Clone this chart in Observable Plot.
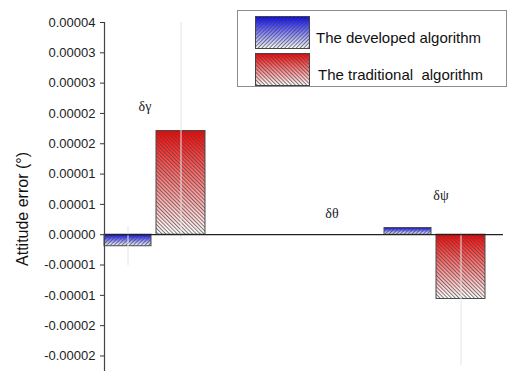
<!DOCTYPE html>
<html><head><meta charset="utf-8">
<script src="https://cdn.jsdelivr.net/npm/d3@7"></script>
<script src="https://cdn.jsdelivr.net/npm/@observablehq/plot@0.6"></script>
<style>
body{margin:0;background:#fff;}
#wrap{position:relative;width:510px;height:371px;font-family:"Liberation Sans",Arial,sans-serif;}
#legend{position:absolute;left:237px;top:10px;width:270px;height:77px;border:1px solid #8c8c8c;background:#fff;box-sizing:border-box;}
.sw{position:absolute;left:17px;width:55px;height:33px;}
.lt{position:absolute;font-size:15px;color:#111;white-space:pre;line-height:18px;}
</style></head><body>
<svg width="0" height="0" style="position:absolute">
  <defs>
    <linearGradient id="gradRed" x1="0" y1="0" x2="0" y2="1">
      <stop offset="0" stop-color="#ff0000"/>
      <stop offset="1" stop-color="#ffffff"/>
    </linearGradient>
    <linearGradient id="gradBlue" x1="0" y1="0" x2="0" y2="1">
      <stop offset="0" stop-color="#0000ff"/>
      <stop offset="1" stop-color="#ffffff"/>
    </linearGradient>
    <pattern id="hatchRed" width="2.7" height="2.7" patternUnits="userSpaceOnUse" patternTransform="rotate(-45)">
      <line x1="0.5" y1="0" x2="0.5" y2="2.7" stroke="#444" stroke-width="0.7"/>
    </pattern>
    <pattern id="hatchBlue" width="2.7" height="2.7" patternUnits="userSpaceOnUse" patternTransform="rotate(45)">
      <line x1="0.5" y1="0" x2="0.5" y2="2.7" stroke="#444" stroke-width="0.7"/>
    </pattern>
  </defs>
</svg>
<div id="wrap">
  <div id="legend">
    <svg class="sw" style="top:5px" viewBox="0 0 55 33"><rect x="0.5" y="0.5" width="54" height="32" fill="url(#gradBlue)"/><rect x="0.5" y="0.5" width="54" height="32" fill="url(#hatchBlue)" stroke="#444" stroke-width="1"/></svg>
    <svg class="sw" style="top:42px" viewBox="0 0 55 33"><rect x="0.5" y="0.5" width="54" height="32" fill="url(#gradRed)"/><rect x="0.5" y="0.5" width="54" height="32" fill="url(#hatchRed)" stroke="#444" stroke-width="1"/></svg>
    <div class="lt" id="lt0" style="left:78px;top:18px"></div>
    <div class="lt" id="lt1" style="left:80px;top:55px"></div>
  </div>
</div>
<script>
const categories = ["δγ", "δθ", "δψ"];
const seriesNames = ["The developed algorithm", "The traditional  algorithm"];
const developed = [-1.9e-6, 0, 1.1e-6];
const traditional = [17.1e-6, 0, -10.6e-6];
const developedErr = [3.2e-6, 0, 0];
const traditionalErr = [17.9e-6, 0, 11.0e-6];
const labelY = [21.2e-6, 3.5e-6, 6.5e-6];
const tickValues = [3.5e-5, 3e-5, 2.5e-5, 2e-5, 1.5e-5, 1e-5, 5e-6, 0, -5e-6, -1e-5, -1.5e-5, -2e-5];
const tickLabels = ["0.00004","0.00003","0.00003","0.00002","0.00002","0.00001","0.00001","0.00000","-0.00001","-0.00001","-0.00002","-0.00002"];
const yDomain = [-2.256e-5, 3.5e-5];
const yTitle = "Attitude error (°)";

document.getElementById("lt0").textContent = seriesNames[0];
document.getElementById("lt1").textContent = seriesNames[1];

const devRows = categories.map((c, i) => ({category: c, value: developed[i], err: developedErr[i]}));
const tradRows = categories.map((c, i) => ({category: c, value: traditional[i], err: traditionalErr[i]}));
const devBars = devRows.filter(d => d.value !== 0);
const tradBars = tradRows.filter(d => d.value !== 0);
const devErr = devRows.filter(d => d.err !== 0);
const tradErr = tradRows.filter(d => d.err !== 0);
const labelRows = categories.map((c, i) => ({category: c, y: labelY[i]}));
const tickMap = new Map(tickValues.map((v, i) => [v, tickLabels[i]]));

const devInset = {insetLeft: 0, insetRight: 72};
const tradInset = {insetLeft: 52, insetRight: 18};
const greek = {x: "category", y: "y", text: "category", fontFamily: '"Liberation Serif", serif', fontSize: 14, fill: "#222"};

const chart = Plot.plot({
  width: 510,
  height: 371,
  marginLeft: 104,
  marginRight: 7,
  marginTop: 22,
  marginBottom: 0,
  style: {fontFamily: '"Liberation Sans", Arial, sans-serif', fontSize: "13px", color: "#222", background: "transparent"},
  x: {domain: categories, paddingInner: 0.15, paddingOuter: 0, axis: null},
  y: {domain: yDomain, axis: null},
  marks: [
    Plot.barY(devBars, {x: "category", y: "value", fill: "url(#gradBlue)", ...devInset}),
    Plot.barY(devBars, {x: "category", y: "value", fill: "url(#hatchBlue)", stroke: "#4a4a4a", strokeWidth: 1, ...devInset}),
    Plot.barY(tradBars, {x: "category", y: "value", fill: "url(#gradRed)", ...tradInset}),
    Plot.barY(tradBars, {x: "category", y: "value", fill: "url(#hatchRed)", stroke: "#4a4a4a", strokeWidth: 1, ...tradInset}),
    Plot.ruleX(devErr, {x: "category", y1: d => d.value - d.err, y2: d => d.value + d.err, dx: -36, stroke: "#e4e4e4", strokeWidth: 1}),
    Plot.ruleX(tradErr, {x: "category", y1: d => d.value - d.err, y2: d => d.value + d.err, dx: 17, stroke: "#e4e4e4", strokeWidth: 1}),
    Plot.ruleY([0], {stroke: "#222", strokeWidth: 1.2}),
    Plot.text(labelRows.filter(d => d.category === categories[0]), {...greek, dx: -19}),
    Plot.text(labelRows.filter(d => d.category === categories[1]), {...greek, dx: 28}),
    Plot.text(labelRows.filter(d => d.category === categories[2]), {...greek, dx: -3}),
    Plot.axisY({ticks: tickValues, tickFormat: d => tickMap.get(d), tickSize: 4, tickPadding: 5, label: null, fontSize: 13, stroke: "#333"}),
    Plot.frame({anchor: "left", stroke: "#444", strokeWidth: 1.2}),
    Plot.text([yTitle], {frameAnchor: "left", textAnchor: "middle", rotate: -90, dx: -82, dy: 12, fontSize: 16, fill: "#111"})
  ]
});
document.getElementById("wrap").prepend(chart);
</script>
</body></html>
